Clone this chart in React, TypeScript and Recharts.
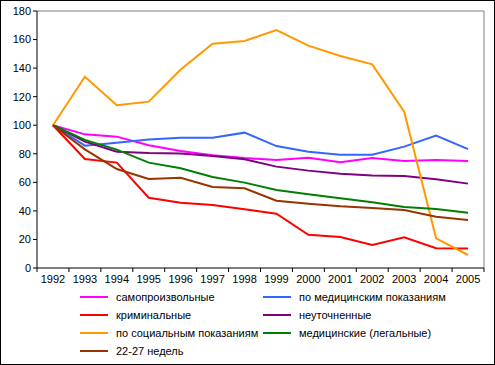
import React from 'react';
import { LineChart, Line, XAxis, YAxis, Legend, ReferenceLine } from 'recharts';

const years = [1992, 1993, 1994, 1995, 1996, 1997, 1998, 1999, 2000, 2001, 2002, 2003, 2004, 2005];

const spontaneous = [100, 93.6, 92, 86, 82, 79, 77, 75.6, 77.2, 74, 77, 75, 75.6, 75];
const medical = [100, 85.7, 87.8, 90, 91.3, 91.3, 94.8, 85.4, 81.5, 79.4, 79.4, 85, 92.7, 83.3];
const criminal = [100, 76.3, 73.8, 49.2, 45.7, 44.1, 41.1, 38, 23.3, 21.7, 16.1, 21.5, 13.8, 13.6];
const unspecified = [100, 88.5, 81.5, 80.5, 80.2, 78.4, 76.1, 71, 68.2, 66, 64.7, 64.4, 62.1, 59.1];
const social = [100, 134, 114, 116.5, 139, 157, 159, 166.7, 155.7, 148.5, 142.6, 109.5, 20.8, 9.1];
const legal = [100, 89.7, 82.9, 73.8, 69.8, 63.7, 59.8, 54.6, 51.6, 48.8, 46, 42.7, 41.3, 38.7];
const weeks2227 = [100, 83.1, 69.3, 62.3, 63.2, 56.7, 55.8, 47.1, 45, 43.2, 42, 40.6, 35.9, 33.6];

const yTicks = [0, 20, 40, 60, 80, 100, 120, 140, 160, 180];

const series = [
  { key: 's1', name: 'самопроизвольные', color: '#FF00FF', values: spontaneous },
  { key: 's2', name: 'по медицинским показаниям', color: '#3366FF', values: medical },
  { key: 's3', name: 'криминальные', color: '#FF0000', values: criminal },
  { key: 's4', name: 'неуточненные', color: '#800080', values: unspecified },
  { key: 's5', name: 'по социальным показаниям', color: '#FF9900', values: social },
  { key: 's6', name: 'медицинские (легальные)', color: '#008000', values: legal },
  { key: 's7', name: '22-27 недель', color: '#993300', values: weeks2227 },
];

const data = years.map((year, i) => {
  const row: Record<string, number> = { year };
  series.forEach(s => { row[s.key] = s.values[i]; });
  return row;
});

// tick marks sit between the years, labels at the year itself
const boundaryTicks = [...years.map(y => y - 0.5), years[years.length - 1] + 0.5];

const FONT = '"Liberation Sans", Arial, sans-serif';

const XTick = (props: any) => {
  const { x, y, payload } = props;
  const v = payload.value;
  if (v > years[years.length - 1]) return null;
  const half = (447 / years.length) / 2;
  return (
    <text x={x + half} y={y + 9} textAnchor="middle" fontSize={11} fontFamily={FONT} fill="#000">
      {v + 0.5}
    </text>
  );
};

const LegendBox = () => (
  <div style={{ display: 'grid', gridTemplateColumns: '183px 200px', paddingLeft: 80, fontFamily: FONT, fontSize: 11, rowGap: 0 }}>
    {series.map(s => (
      <div key={s.key} style={{ display: 'flex', alignItems: 'center', height: 18 }}>
        <span style={{ display: 'inline-block', width: 28, height: 2, background: s.color, marginRight: 8 }} />
        <span>{s.name}</span>
      </div>
    ))}
  </div>
);

const App: React.FC = () => (
  <div style={{ position: 'absolute', left: 0, top: 0, width: 495, height: 365, boxSizing: 'border-box', border: '1px solid #000', background: '#fff' }}>
    <div style={{ position: 'absolute', left: -1, top: -1 }}>
      <LineChart width={495} height={365} data={data} margin={{ top: 11, right: 11, left: 0, bottom: 7 }}>
        <XAxis
          dataKey="year"
          type="number"
          domain={[years[0] - 0.5, years[years.length - 1] + 0.5]}
          ticks={boundaryTicks}
          interval={0}
          tick={<XTick />}
          tickSize={4}
          height={20}
          axisLine={{ stroke: '#000' }}
          tickLine={{ stroke: '#000' }}
        />
        <YAxis
          domain={[0, 180]}
          ticks={yTicks}
          interval={0}
          width={37}
          tickSize={4}
          tickMargin={2}
          tick={{ fontSize: 11, fontFamily: FONT, fill: '#000' }}
          axisLine={{ stroke: '#000' }}
          tickLine={{ stroke: '#000' }}
        />
        <ReferenceLine y={180} stroke="#808080" />
        <ReferenceLine x={years[years.length - 1] + 0.5} stroke="#808080" />
        {series.map(s => (
          <Line
            key={s.key}
            type="linear"
            dataKey={s.key}
            name={s.name}
            stroke={s.color}
            strokeWidth={2}
            dot={false}
            isAnimationActive={false}
          />
        ))}
        <Legend verticalAlign="bottom" height={70} content={<LegendBox />} />
      </LineChart>
    </div>
  </div>
);

export default App;
